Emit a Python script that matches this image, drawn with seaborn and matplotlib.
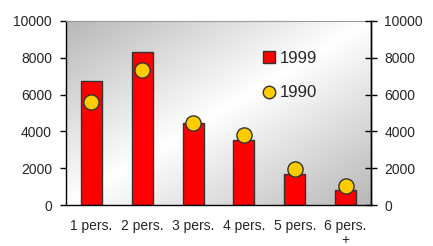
import numpy as np
import pandas as pd
import matplotlib
matplotlib.use("Agg")
import matplotlib.pyplot as plt
from matplotlib.lines import Line2D
import seaborn as sns

categories = ["1 pers.", "2 pers.", "3 pers.", "4 pers.", "5 pers.", "6 pers.\n+"]
values_1999 = [6750, 8300, 4440, 3540, 1700, 830]
values_1990 = [5610, 7350, 4480, 3810, 1950, 1060]
yticks = [0, 2000, 4000, 6000, 8000, 10000]

sns.set_style("white")
plt.rcParams["font.family"] = ["Liberation Sans", "DejaVu Sans"]

df = pd.DataFrame({"cat": categories, "v1999": values_1999, "v1990": values_1990})

fig = plt.figure(figsize=(4.33, 2.46), dpi=100)
ax = fig.add_axes([66 / 433, 1 - 205.3 / 246, 305 / 433, 184.6 / 246])

# gradient background
nx, ny = 200, 120
xx, yy = np.meshgrid(np.linspace(0, 1, nx), np.linspace(0, 1, ny))
d = np.abs((xx + yy) - 1.0)
shade = 1.0 - 0.28 * d
img = np.dstack([shade, shade, shade])
ax.imshow(img, extent=[0, 1, 0, 1], transform=ax.transAxes, aspect="auto",
          zorder=0, interpolation="bilinear")

sns.barplot(data=df, x="cat", y="v1999", color="#ff0000", width=0.41,
            edgecolor="#333333", linewidth=1, saturation=1, ax=ax, zorder=2)
sns.scatterplot(data=df, x="cat", y="v1990", color="#ffcc00", s=120,
                edgecolor="#333333", linewidth=1, marker="o", ax=ax, zorder=3)

ax.set_xlim(-0.5, 5.5)
ax.set_ylim(0, 10000)
ax.set_xlabel("")
ax.set_ylabel("")
ax.set_yticks(yticks)
ax.set_yticklabels([str(v) for v in yticks], fontsize=10)
ax.tick_params(axis="y", direction="out", length=4.5, width=1, pad=5.5, color="black")
ax.set_xticks(range(len(categories)))
ax.set_xticklabels(categories, fontsize=10)
for t in ax.get_xticklabels():
    t.set_linespacing(1.0)
ax.set_xticks(np.arange(-0.5, 6, 1), minor=True)
ax.tick_params(axis="x", which="major", length=0, pad=10)
ax.tick_params(axis="x", which="minor", direction="inout", length=10, width=1, color="black")

for s in ["left", "bottom", "right"]:
    ax.spines[s].set_visible(True)
    ax.spines[s].set_color("black")
    ax.spines[s].set_linewidth(1)
ax.spines["top"].set_color("#999999")
ax.spines["top"].set_linewidth(0.8)

ax2 = ax.twinx()
ax2.set_ylim(0, 10000)
ax2.set_yticks(yticks)
ax2.set_yticklabels([str(v) for v in yticks], fontsize=10)
ax2.tick_params(axis="y", direction="inout", length=8, width=1, pad=5.5, color="black")
for s in ["left", "bottom", "top"]:
    ax2.spines[s].set_visible(False)
ax2.spines["right"].set_color("black")
ax2.spines["right"].set_linewidth(1)
ax2.grid(False)
ax.grid(False)

handles = [
    Line2D([], [], marker="s", linestyle="", markersize=8.6, markerfacecolor="#ff0000",
           markeredgecolor="#333333", markeredgewidth=1),
    Line2D([], [], marker="o", linestyle="", markersize=9, markerfacecolor="#ffcc00",
           markeredgecolor="#333333", markeredgewidth=1),
]
leg = ax2.legend(handles, ["1999", "1990"], loc="upper left",
                 bbox_to_anchor=(0.615, 0.88), frameon=False, fontsize=12,
                 handlelength=0.8, handletextpad=0.25, labelspacing=1.15, borderpad=0)

fig.savefig("out.png", dpi=100)
